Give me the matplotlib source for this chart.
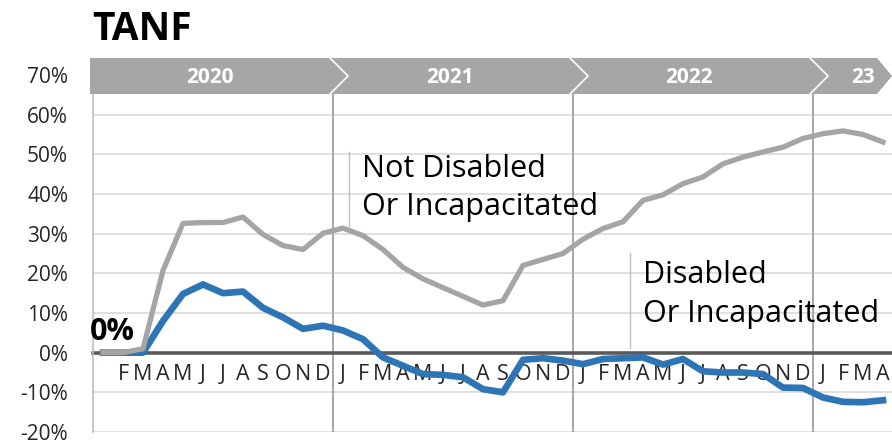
import matplotlib.pyplot as plt
from matplotlib.patches import Polygon

plt.rcParams["font.family"] = ["Open Sans", "DejaVu Sans"]

# monthly change since Jan 2020, in percent (Jan 2020 .. Apr 2023)
not_disabled = [
    0, 0, 1, 20.7, 32.6, 32.8, 32.8, 34.2, 29.8, 27.0, 26.0, 30.1,
    31.4, 29.5, 26.0, 21.5, 18.6, 16.4, 14.2, 12.0, 13.1, 22.0, 23.5, 25.0,
    28.6, 31.3, 33.0, 38.4, 39.8, 42.6, 44.3, 47.6, 49.3, 50.6, 51.8, 54.0,
    55.2, 55.9, 55.0, 53.1,
]
disabled = [
    0, 0, 0, 8.0, 14.8, 17.2, 15.0, 15.4, 11.3, 8.9, 6.0, 6.8,
    5.6, 3.4, -1.2, -3.3, -5.4, -5.6, -6.2, -9.2, -10.0, -1.8, -1.4, -2.0,
    -2.9, -1.6, -1.4, -1.2, -3.0, -1.6, -4.7, -5.0, -5.0, -5.4, -8.8, -8.9,
    -11.3, -12.4, -12.5, -12.0,
]
month_letters = ["J", "F", "M", "A", "M", "J", "J", "A", "S", "O", "N", "D"]
month_labels = [""] + month_letters[1:] + month_letters * 2 + month_letters[:4]
years = ["2020", "2021", "2022", "23"]
y_ticks = [-20, -10, 0, 10, 20, 30, 40, 50, 60, 70]

gray = "#A5A5A5"
blue = "#2E75B6"
grid_c = "#D9D9D9"
text_c = "#262626"

fig = plt.figure(figsize=(8.92, 4.48), dpi=100)
ax = fig.add_axes([93 / 892, 16 / 448, 800 / 892, 357 / 448])

x = list(range(len(not_disabled)))
ax.plot(x, not_disabled, color=gray, lw=3.8, solid_joinstyle="round", zorder=4)
ax.plot(x, disabled, color=blue, lw=4.8, solid_joinstyle="round", zorder=3)

# move the category axis up to the zero line before styling ticks
for side in ["top", "right"]:
    ax.spines[side].set_visible(False)
ax.spines["bottom"].set_position(("data", 0))
ax.spines["bottom"].set_color("#595959")
ax.spines["bottom"].set_linewidth(2.6)
ax.spines["bottom"].set_zorder(2)
ax.spines["left"].set_color("#BFBFBF")
ax.spines["left"].set_linewidth(1.2)
ax.spines["left"].set_bounds(-20, 65)

ax.set_xlim(-0.5, len(x) - 0.5)
ax.set_ylim(-20, 70)
ax.set_yticks(y_ticks)
ax.set_yticklabels([f"{v}%" for v in y_ticks], fontsize=15, color=text_c)
ax.set_xticks(x)
ax.set_xticklabels(month_labels, fontsize=15.5, color=text_c)
ax.tick_params(axis="both", length=0)
ax.tick_params(axis="y", pad=18)
ax.tick_params(axis="x", pad=8)

ax.grid(axis="y", color=grid_c, lw=1.2, zorder=0)
ax.set_axisbelow(True)

# year separators
for b in [11.5, 23.5, 35.5]:
    ax.plot([b, b], [-20, 65], color="#A6A6A6", lw=1.4, zorder=1)

# year banner across the top
bar_lo, bar_hi = 65.2, 74.3
bar_mid = (bar_lo + bar_hi) / 2
banner = Polygon(
    [(-0.65, bar_lo), (-0.65, bar_hi), (38.7, bar_hi), (39.45, bar_mid), (38.7, bar_lo)],
    closed=True, facecolor="#A6A6A6", edgecolor="none", clip_on=False, zorder=5,
)
ax.add_patch(banner)
for b in [11.5, 23.5, 35.5]:
    ax.plot([b - 0.15, b + 0.75, b - 0.15], [bar_hi, bar_mid, bar_lo],
            color="white", lw=1.2, clip_on=False, zorder=6)
year_centers = [5.35, 17.35, 29.3, 38.0]
for xc, label in zip(year_centers, years):
    ax.text(xc, bar_mid - 0.3, label, color="white", fontsize=15, fontweight="bold",
            ha="center", va="center", zorder=7, clip_on=False)

# series labels with leader lines
ax.plot([12.3, 12.3], [32.0, 50.6], color="#BFBFBF", lw=1, zorder=2)
ax.text(12.93, 44.3, "Not Disabled", fontsize=22, color="black", ha="left", va="baseline", zorder=6)
ax.text(12.93, 34.6, "Or Incapacitated", fontsize=22, color="black", ha="left", va="baseline", zorder=6)

ax.plot([26.35, 26.35], [1.2, 25.0], color="#BFBFBF", lw=1, zorder=2)
ax.text(27.0, 17.6, "Disabled", fontsize=22, color="black", ha="left", va="baseline", zorder=6)
ax.text(27.0, 7.8, "Or Incapacitated", fontsize=22, color="black", ha="left", va="baseline", zorder=6)

# starting point label
ax.text(-0.65, 3.3, f"{not_disabled[0]:.0f}%", fontsize=22, fontweight="bold",
        color="black", ha="left", va="baseline", zorder=6)

fig.text(92 / 892, 1 - 40 / 448, "TANF", fontsize=28, fontweight="bold",
         color="black", ha="left", va="baseline")

fig.savefig("out.png", dpi=100)
